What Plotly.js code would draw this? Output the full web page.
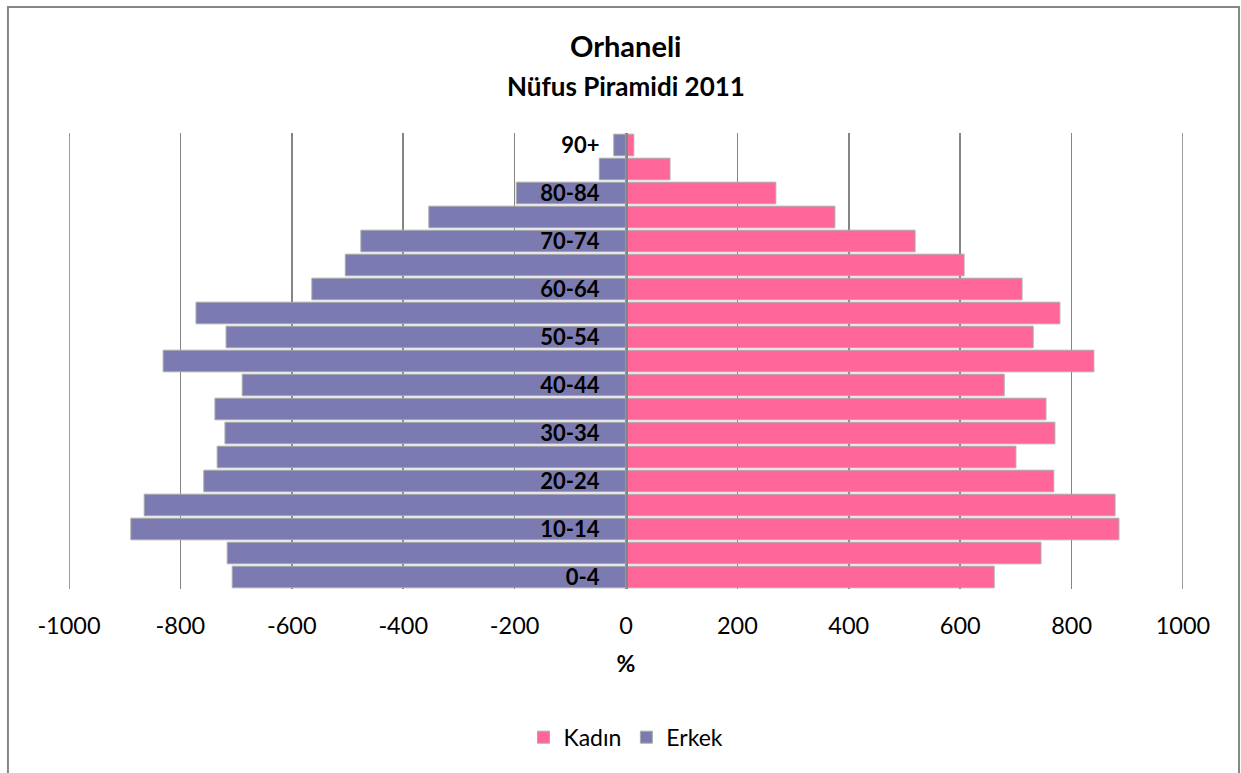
<!DOCTYPE html>
<html>
<head>
<meta charset="utf-8">
<script src="https://cdn.plot.ly/plotly-3.0.1.min.js"></script>
<style>
html,body{margin:0;padding:0;background:#fff;}
#chart{width:1241px;height:773px;}
</style>
</head>
<body>
<div id="chart"></div>
<script>
const ageGroups = ["0-4","5-9","10-14","15-19","20-24","25-29","30-34","35-39","40-44","45-49","50-54","55-59","60-64","65-69","70-74","75-79","80-84","85-89","90+"];
const kadin = [661,745,885,878,768,700,770,754,679,840,731,779,711,607,519,375,269,79,14];
const erkek = [707,716,889,865,758,734,720,738,689,831,718,772,564,504,476,354,197,48,22];
const yTickLabels = ["0-4","10-14","20-24","30-34","40-44","50-54","60-64","70-74","80-84","90+"];
const xTicks = [-1000,-800,-600,-400,-200,0,200,400,600,800,1000];

const FONT = "Lato, 'Open Sans', sans-serif";
const PINK = "#FF6699";
const PURPLE = "#7B7BB1";
const GRID = "#858585";

const traces = [
  {type:"bar", orientation:"h", name:"Kadın", y:ageGroups, x:kadin,
   marker:{color:PINK, line:{color:"#ababab", width:1}}, hoverinfo:"x+y"},
  {type:"bar", orientation:"h", name:"Erkek", y:ageGroups, x:erkek.map(v=>-v),
   marker:{color:PURPLE, line:{color:"#ababab", width:1}}, hoverinfo:"x+y"}
];

const edgeLines = [xTicks[0], xTicks[xTicks.length-1]].map(v => ({
  type:"line", xref:"x", yref:"paper", x0:v, x1:v, y0:0, y1:1,
  line:{color:GRID, width:1.6}, layer:"below"
}));

const layout = {
  width:1241, height:773,
  margin:{l:69, r:58, t:133, b:184},
  paper_bgcolor:"#fff", plot_bgcolor:"#fff",
  font:{family:FONT, color:"#000"},
  barmode:"overlay", bargap:0.1,
  showlegend:true,
  legend:{orientation:"h", x:0.5, xanchor:"center", y:-0.325, yanchor:"middle",
          font:{size:23, family:FONT}, traceorder:"normal", itemwidth:30},
  xaxis:{range:[-1000,1000], tickvals:xTicks, ticktext:xTicks.map(String),
         showgrid:true, gridcolor:GRID, gridwidth:1.6,
         zeroline:false, showline:false, ticks:"", ticklabelstandoff:20,
         tickfont:{size:23.5, family:FONT},
         title:{text:"<b>%</b>", font:{size:23, family:FONT}, standoff:18}, fixedrange:true},
  yaxis:{type:"category", categoryorder:"array", categoryarray:ageGroups,
         range:[-0.5,18.5], anchor:"free", position:0.5, side:"left",
         tickvals:yTickLabels, ticktext:yTickLabels.map(t=>"<b>"+t+"</b>"),
         showline:true, linecolor:GRID, linewidth:1.6,
         showgrid:false, zeroline:false, ticks:"", ticklabelstandoff:22,
         tickfont:{size:22, family:FONT}, fixedrange:true},
  annotations:[
    {xref:"paper", yref:"paper", x:0.5, y:1.1908, text:"<b>Orhaneli</b>", showarrow:false,
     xanchor:"center", yanchor:"middle", font:{size:29, family:FONT}},
    {xref:"paper", yref:"paper", x:0.5, y:1.1031, text:"<b>Nüfus Piramidi 2011</b>", showarrow:false,
     xanchor:"center", yanchor:"middle", font:{size:26, family:FONT}}
  ],
  shapes:[
    ...edgeLines,
    {type:"rect", xref:"paper", yref:"paper", x0:-0.0548, x1:1.0503, y0:-0.45, y1:1.2763,
     line:{color:"#878787", width:2}, fillcolor:"rgba(0,0,0,0)", layer:"above"}
  ]
};

Plotly.newPlot("chart", traces, layout, {displayModeBar:false, staticPlot:true});
</script>
</body>
</html>
